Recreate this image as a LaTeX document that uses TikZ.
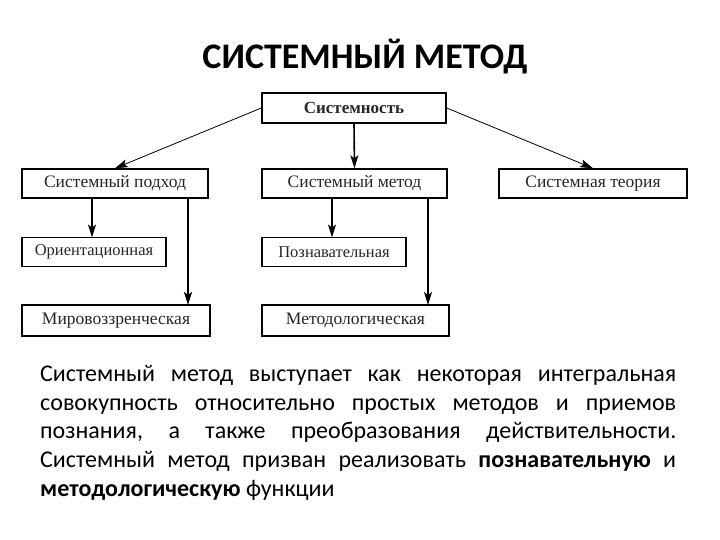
\documentclass[tikz,border=0pt]{standalone}
\usepackage{fontspec}
\setmainfont{Carlito}
\newfontfamily\boxfont{Liberation Serif}
\usetikzlibrary{arrows.meta}
\frenchspacing
\tikzset{
  box/.style={draw=black, line width=1.4pt, inner sep=0pt, font=\boxfont\fontsize{17.5}{20}\selectfont, text=black!85},
  smallbox/.style={box, font=\boxfont\fontsize{16.5}{19}\selectfont},
  arr/.style={-{Stealth[length=13pt,width=8pt,inset=3pt]}, line width=1.2pt},
  thinarr/.style={-{Stealth[length=13pt,width=8pt,inset=3pt]}, line width=0.8pt},
}
\begin{document}
\begin{tikzpicture}[x=1pt,y=-1pt]
\useasboundingbox (0,0) rectangle (720,540);
\node[font=\bfseries\fontsize{36}{40}\selectfont] (title) at (365,57) {СИСТЕМНЫЙ МЕТОД};
\node[box, minimum width=184, minimum height=30, font=\boxfont\bfseries\fontsize{17}{19}\selectfont] (sys) at (354,108) {Системность};
\node[box, minimum width=186, minimum height=29] (podhod) at (115,183.5) {Системный подход};
\node[box, minimum width=185, minimum height=29] (metod) at (354.5,183.5) {Системный метод};
\node[box, minimum width=188, minimum height=29] (teoria) at (593,183.5) {Системная теория};
\node[smallbox, minimum width=144, minimum height=29] (orient) at (94,252) {Ориентационная};
\node[smallbox, minimum width=144, minimum height=29] (pozn) at (334,252) {Познавательная};
\node[box, minimum width=188, minimum height=31] (mirov) at (116,320.5) {Мировоззренческая};
\node[box, minimum width=187, minimum height=31] (metodol) at (355.5,320.5) {Методологическая};
\draw[thinarr] (sys.west) -- (podhod.north);
\draw[thinarr] (sys.east) -- (teoria.north);
\draw[arr, line width=1.6pt] (sys.south) -- (metod.north);
\coordinate (otop) at (92,237.5);
\draw[arr] (otop |- podhod.south) -- (otop);
\coordinate (mtop) at (188,305);
\draw[arr, line width=2.2pt] (mtop |- podhod.south) -- (mtop);
\coordinate (ptop) at (332,237.5);
\draw[arr] (ptop |- metod.south) -- (ptop);
\coordinate (mltop) at (428,305);
\draw[arr] (mltop |- metod.south) -- (mltop);
\node[anchor=north west, inner sep=0pt, text width=636pt, align=justify, font=\fontsize{24}{28.7}\selectfont] (body) at (40,365) {Системный метод выступает как некоторая интегральная\linebreak
совокупность относительно простых методов и приемов\linebreak
познания, а также преобразования действительности.\linebreak
Системный метод призван реализовать \textbf{познавательную} и\linebreak
\textbf{методологическую} функции};
\end{tikzpicture}
\end{document}
